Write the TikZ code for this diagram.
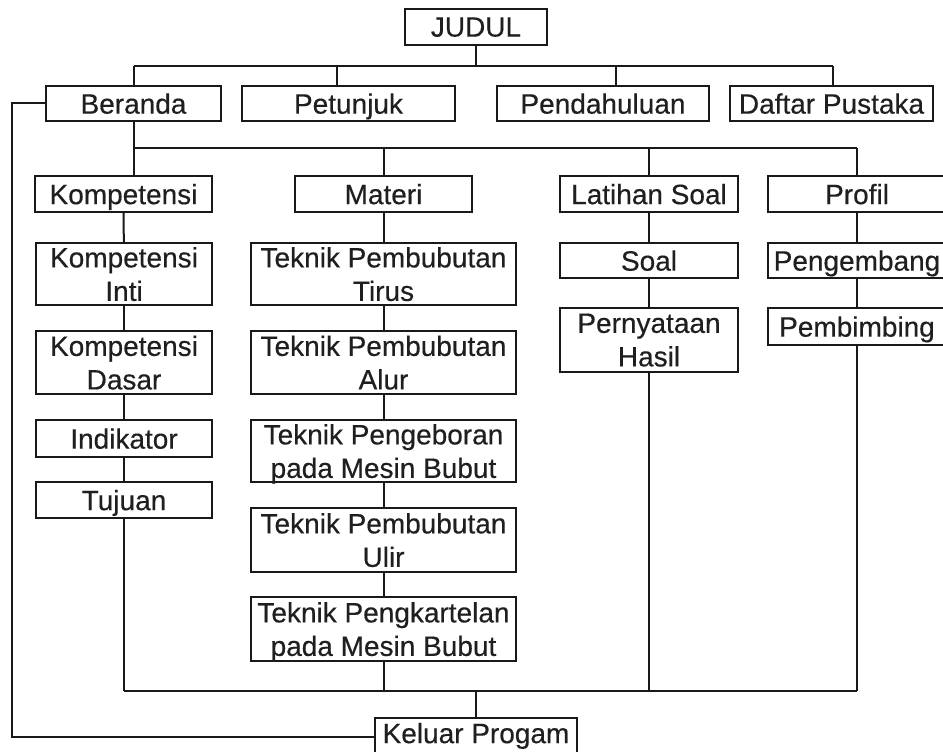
\documentclass[tikz,border=0pt]{standalone}
\usepackage{fontspec}
\setmainfont{Liberation Sans}[FakeBold=0.4]
\begin{document}
\begin{tikzpicture}[x=1pt,y=1pt,
  box/.style={draw=black!90, line width=2pt, inner sep=0pt, text depth=0pt,
    align=center, text=black!88, font=\fontsize{28}{33.5}\selectfont},
  wire/.style={line width=2pt, draw=black!90}]
\useasboundingbox (0,0) rectangle (943,-752);
% top level
\node[box, minimum width=142, minimum height=36] (judul) at (476,-27) {JUDUL};
\node[box, minimum width=175, minimum height=35] (beranda) at (133.5,-103.5) {Beranda};
\node[box, minimum width=213, minimum height=35] (petunjuk) at (348.5,-103.5) {Petunjuk};
\node[box, minimum width=212, minimum height=35] (pendahuluan) at (603,-103.5) {Pendahuluan};
\node[box, minimum width=203, minimum height=35] (daftar) at (831.5,-103.5) {Daftar Pustaka};
% second level
\node[box, minimum width=177, minimum height=36] (kompetensi) at (123.5,-194) {Kompetensi};
\node[box, minimum width=177, minimum height=36] (materi) at (383.5,-194) {Materi};
\node[box, minimum width=178, minimum height=36] (latihan) at (649,-194) {Latihan Soal};
\node[box, minimum width=178, minimum height=36] (profil) at (857,-194) {Profil};
% kompetensi column
\node[box, minimum width=176, minimum height=62] (ki) at (124,-274) {Kompetensi\\Inti};
\node[box, minimum width=176, minimum height=63] (kd) at (124,-362.5) {Kompetensi\\Dasar};
\node[box, minimum width=176, minimum height=37] (indikator) at (124,-438.5) {Indikator};
\node[box, minimum width=176, minimum height=36] (tujuan) at (124,-500) {Tujuan};
% materi column
\node[box, minimum width=265, minimum height=62] (tirus) at (383.5,-274) {Teknik Pembubutan\\Tirus};
\node[box, minimum width=265, minimum height=63] (alur) at (383.5,-362.5) {Teknik Pembubutan\\Alur};
\node[box, minimum width=265, minimum height=62] (bor) at (383.5,-451) {Teknik Pengeboran\\pada Mesin Bubut};
\node[box, minimum width=265, minimum height=64] (ulir) at (383.5,-540) {Teknik Pembubutan\\Ulir};
\node[box, minimum width=265, minimum height=64] (kartel) at (383.5,-629) {Teknik Pengkartelan\\pada Mesin Bubut};
% latihan column
\node[box, minimum width=178, minimum height=35] (soal) at (649,-260.5) {Soal};
\node[box, minimum width=178, minimum height=64] (hasil) at (649,-340) {Pernyataan\\Hasil};
% profil column
\node[box, minimum width=178, minimum height=35] (pengembang) at (857,-260.5) {Pengembang};
\node[box, minimum width=178, minimum height=37] (pembimbing) at (857,-326.5) {Pembimbing};
% exit
\node[box, minimum width=202, minimum height=38, text depth=8pt] (keluar) at (476,-737) {Keluar Progam};
% buses
\coordinate (b1L) at (134,-66);
\coordinate (b1R) at (833,-66);
\coordinate (b1P) at (337,-66);
\coordinate (b1D) at (616,-66);
\coordinate (b2L) at (134,-148);
\coordinate (b2R) at (857,-148);
\coordinate (b3L) at (124,-691);
\coordinate (b3R) at (857,-691);
\coordinate (b3M) at (476,-691);
\coordinate (loopL) at (12,-103.5);
% level 1 wiring
\draw[wire] (judul.south) -- (judul.south |- b1L);
\draw[wire] (b1L) -- (b1R);
\draw[wire] (b1L) -- (b1L |- beranda.north);
\draw[wire] (b1P) -- (b1P |- petunjuk.north);
\draw[wire] (b1D) -- (b1D |- pendahuluan.north);
\draw[wire] (b1R) -- (b1R |- daftar.north);
% level 2 wiring
\draw[wire] (beranda.south -| b2L) -- (b2L);
\draw[wire] (b2L) -- (b2R);
\draw[wire] (b2L) -- (b2L |- kompetensi.north);
\draw[wire] (materi.north |- b2L) -- (materi.north);
\draw[wire] (latihan.north |- b2L) -- (latihan.north);
\draw[wire] (b2R) -- (profil.north);
% columns
\draw[wire] (kompetensi) -- (ki);
\draw[wire] (ki) -- (kd);
\draw[wire] (kd) -- (indikator);
\draw[wire] (indikator) -- (tujuan);
\draw[wire] (materi) -- (tirus);
\draw[wire] (tirus) -- (alur);
\draw[wire] (alur) -- (bor);
\draw[wire] (bor) -- (ulir);
\draw[wire] (ulir) -- (kartel);
\draw[wire] (latihan) -- (soal);
\draw[wire] (soal) -- (hasil);
\draw[wire] (profil) -- (pengembang);
\draw[wire] (pengembang) -- (pembimbing);
% bottom bus
\draw[wire] (tujuan.south) -- (b3L);
\draw[wire] (b3L) -- (b3R);
\draw[wire] (kartel.south) -- (kartel.south |- b3L);
\draw[wire] (hasil.south) -- (hasil.south |- b3L);
\draw[wire] (pembimbing.south) -- (b3R);
\draw[wire] (b3M) -- (keluar.north);
% loop back
\draw[wire] (beranda.west) -- (loopL) |- (keluar.west);
\end{tikzpicture}
\end{document}
